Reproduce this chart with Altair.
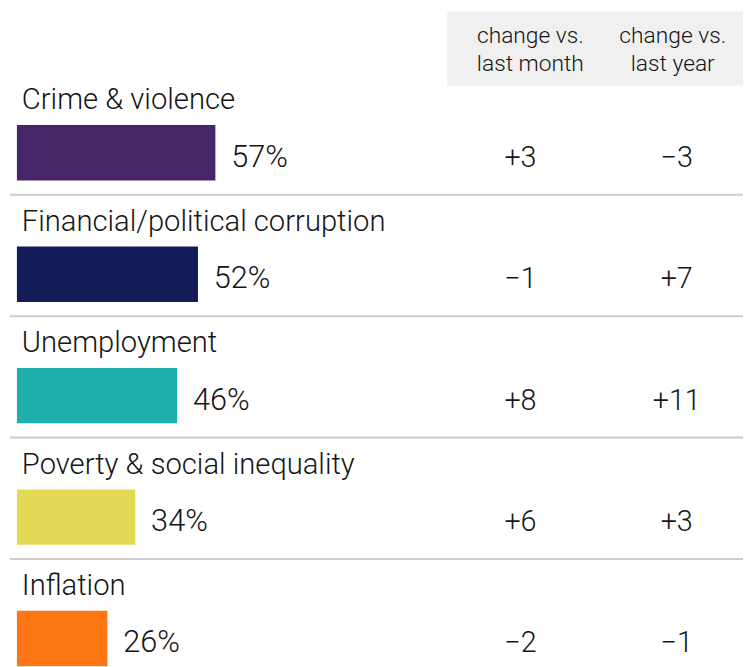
import altair as alt
import pandas as pd

categories = ["Crime & violence", "Financial/political corruption", "Unemployment",
              "Poverty & social inequality", "Inflation"]
shares = [57, 52, 46, 34, 26]
vs_month = ["+3", "−1", "+8", "+6", "−2"]
vs_year = ["−3", "+7", "+11", "+3", "−1"]
colors = ["#472667", "#131c59", "#1fb0ab", "#e2da54", "#fd7614"]
col_keys = ["month", "year"]
col_headers = ["change vs.\nlast month", "change vs.\nlast year"]

FONT = "Roboto"
TXT = "#151515"
W = 300

main = pd.DataFrame({"cat": categories, "pct": shares,
                     "label": [f"{v}%" for v in shares]})
changes = pd.DataFrame({
    "cat": categories * 2,
    "col": ["month"] * len(categories) + ["year"] * len(categories),
    "val": vs_month + vs_year,
})
headers = pd.DataFrame({"col": col_keys, "text": col_headers})
seps = pd.DataFrame({"cat": categories[1:]})

yscale = alt.Scale(domain=categories, range=[62.4, 676.2], paddingInner=0, paddingOuter=0)
y_enc = alt.Y("cat:N", scale=yscale, axis=None)
xscale = alt.Scale(domain=[0, 100], range=[9, 361])

header_bg = alt.Chart(pd.DataFrame({"a": [0]})).mark_rect(color="#f0f0f0").encode(
    x=alt.value(444), x2=alt.value(743), y=alt.value(0), y2=alt.value(75))

header_text = alt.Chart(headers).mark_text(
    font=FONT, fontSize=23, fontWeight=W, color=TXT, baseline="alphabetic", align="center",
    lineBreak="\n", lineHeight=28
).encode(
    x=alt.X("col:N", scale=alt.Scale(type="point", domain=col_keys, range=[528, 672], padding=0),
            axis=None),
    y=alt.value(32), text="text:N")

bars = alt.Chart(main).mark_bar(height=56, yOffset=19).encode(
    x=alt.X("pct:Q", scale=xscale, axis=None),
    y=y_enc,
    color=alt.Color("cat:N", scale=alt.Scale(domain=categories, range=colors), legend=None))

labels = alt.Chart(main).mark_text(
    font=FONT, fontSize=29.5, fontWeight=W, color=TXT, align="left", baseline="alphabetic", dy=-25
).encode(x=alt.value(14), y=y_enc, text="cat:N")

values = alt.Chart(main).mark_text(
    font=FONT, fontSize=31, fontWeight=W, color=TXT, align="left", baseline="alphabetic",
    dx=16, dy=33
).encode(x=alt.X("pct:Q", scale=xscale, axis=None), y=y_enc, text="label:N")

change_text = alt.Chart(changes).mark_text(
    font=FONT, fontSize=29, fontWeight=W, color=TXT, align="center", baseline="alphabetic", dy=33
).encode(
    x=alt.X("col:N", scale=alt.Scale(type="point", domain=col_keys, range=[518, 676], padding=0),
            axis=None),
    y=y_enc, text="val:N")

rules = alt.Chart(seps).mark_rule(color="#cccccc", strokeWidth=2).encode(
    x=alt.value(2), x2=alt.value(743),
    y=alt.Y("cat:N", scale=yscale, axis=None, bandPosition=0))

chart = alt.layer(header_bg, header_text, rules, bars, labels, values, change_text).resolve_scale(
    x="independent"
).properties(
    width=743, height=659, padding=0,
    autosize=alt.AutoSizeParams(type="none"),
).configure_view(stroke=None)

chart.save("out.html", embed_options={"renderer": "svg", "actions": False})
